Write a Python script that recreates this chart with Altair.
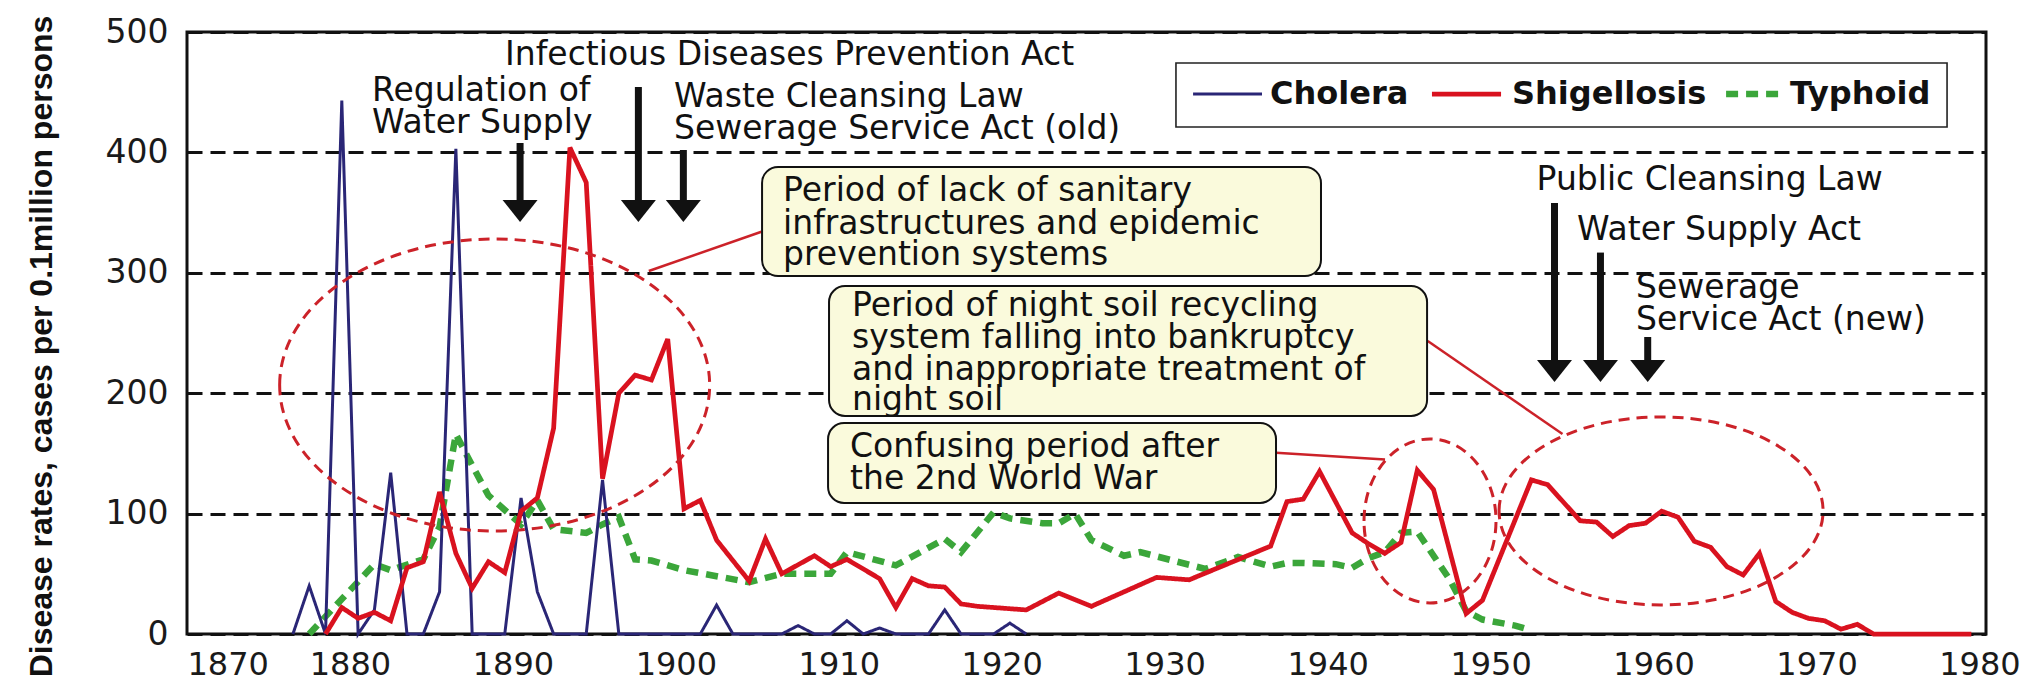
import altair as alt
import pandas as pd

# ---------------- data ----------------
cholera_years = [1876, 1877, 1878, 1879, 1880, 1881, 1882, 1883, 1884, 1885, 1886, 1887, 1888,
                 1889, 1890, 1891, 1892, 1893, 1894, 1895, 1896, 1901, 1902, 1903, 1906, 1907,
                 1908, 1909, 1910, 1911, 1912, 1913, 1915, 1916, 1917, 1919, 1920, 1921]
cholera_rates = [0, 40, 0, 443, 0, 20, 134, 0, 0, 35, 403, 0, 0,
                 0, 113, 35, 0, 0, 0, 128, 0, 0, 24, 0, 0, 7,
                 0, 0, 11, 0, 5, 0, 0, 20, 0, 0, 9, 0]

shig_years = [1878, 1879, 1880, 1881, 1882, 1883, 1884, 1885, 1886, 1887, 1888, 1889, 1890,
              1891, 1892, 1893, 1894, 1895, 1896, 1897, 1898, 1899, 1900, 1901, 1902, 1904,
              1905, 1906, 1908, 1909, 1910, 1912, 1913, 1914, 1915, 1916, 1917, 1918, 1921,
              1923, 1925, 1929, 1931, 1936, 1937, 1938, 1939, 1941, 1942, 1943, 1944, 1945,
              1946, 1948, 1949, 1952, 1953, 1955, 1956, 1957, 1958, 1959, 1960, 1961, 1962,
              1963, 1964, 1965, 1966, 1967, 1968, 1969, 1970, 1971, 1972, 1973, 1979]
shig_rates = [0, 22, 13, 18, 11, 55, 60, 118, 67, 38, 60, 51, 102,
              113, 171, 404, 375, 129, 200, 215, 211, 245, 104, 111, 78, 44,
              79, 50, 65, 56, 62, 46, 22, 46, 40, 39, 25, 23, 20,
              34, 23, 47, 45, 73, 110, 112, 135, 84, 75, 67, 76, 136,
              120, 17, 28, 128, 124, 94, 93, 81, 90, 92, 102, 97, 77,
              72, 56, 49, 67, 27, 18, 13, 11, 4, 8, 0, 0]

typhoid_years = [1877, 1881, 1882, 1884, 1885, 1886, 1887, 1888, 1890, 1891, 1892, 1894, 1895,
                 1896, 1897, 1898, 1900, 1902, 1904, 1906, 1909, 1910, 1913, 1916, 1917, 1919,
                 1920, 1922, 1923, 1924, 1925, 1927, 1928, 1930, 1932, 1934, 1936, 1937, 1938,
                 1940, 1941, 1942, 1943, 1944, 1945, 1946, 1947, 1948, 1949, 1951, 1952]
typhoid_rates = [0, 58, 53, 62, 89, 166, 140, 115, 91, 111, 87, 84, 91,
                 97, 62, 61, 53, 48, 43, 50, 50, 68, 57, 79, 68, 101,
                 96, 92, 92, 100, 78, 65, 68, 61, 54, 64, 56, 59, 59,
                 58, 55, 63, 68, 84, 85, 65, 45, 19, 12, 7, 3]

series_names = ["Cholera", "Shigellosis", "Typhoid"]
series_colors = ["#2a2676", "#d9121f", "#3ba63a"]

x_ticks = [1870, 1880, 1890, 1900, 1910, 1920, 1930, 1940, 1950, 1960, 1970, 1980]
y_ticks = [0, 100, 200, 300, 400, 500]

# law arrows: (year, top of shaft, tip)
arrow_year = [1890.44, 1897.70, 1900.46, 1953.92, 1956.74, 1959.64]
arrow_top = [407.8, 454.3, 402.0, 358.0, 316.8, 246.7]
arrow_tip = [342.2, 342.2, 342.2, 209.3, 209.3, 209.3]

# law labels (one row per text line)
law_text = ["Infectious Diseases Prevention Act", "Regulation of", "Water Supply",
            "Waste Cleansing Law", "Sewerage Service Act (old)", "Public Cleansing Law",
            "Water Supply Act", "Sewerage", "Service Act (new)"]
law_year = [1889.52, 1881.35, 1881.35, 1899.89, 1899.89, 1952.82, 1955.30, 1958.92, 1958.92]
law_val = [472.6, 442.3, 416.1, 437.7, 411.1, 368.8, 327.6, 279.1, 252.5]

# call-out boxes
box_x = [1905.29, 1909.40, 1909.34]
box_x2 = [1939.59, 1946.10, 1936.83]
box_top = [387.9, 289.0, 175.2]
box_bottom = [297.3, 181.1, 108.8]

box_text = ["Period of lack of sanitary", "infrastructures and epidemic", "prevention systems",
            "Period of night soil recycling", "system falling into bankruptcy",
            "and inappropriate treatment of", "night soil",
            "Confusing period after", "the 2nd World War"]
box_text_year = [1906.58, 1906.58, 1906.58, 1910.81, 1910.81, 1910.81, 1910.81, 1910.69, 1910.69]
box_text_val = [359.6, 332.2, 306.5, 264.1, 237.5, 211.0, 186.0, 147.0, 120.8]

# connector lines from boxes to circled periods
conn_x = [1905.25, 1936.83, 1946.14]
conn_x2 = [1898.34, 1943.52, 1954.41]
conn_y = [334.1, 150.5, 243.4]
conn_y2 = [301.5, 145.0, 166.1]

# circled periods: centre (year, rate), radii in px
ell_year = [1888.88, 1946.28, 1960.46]
ell_val = [206.8, 93.9, 102.2]
ell_rx = [215, 66, 162]
ell_ry = [146, 82, 94]

# ---------------- build ----------------
rows = []
for name, ys, vs in [("Typhoid", typhoid_years, typhoid_rates),
                     ("Cholera", cholera_years, cholera_rates),
                     ("Shigellosis", shig_years, shig_rates)]:
    for yv, rv in zip(ys, vs):
        rows.append({"series": name, "year": yv, "rate": rv})
df = pd.DataFrame(rows)

FONT = "DejaVu Sans"
ANN_RED = "#cc2229"

xscale = alt.Scale(domain=[1870, 1980.4], nice=False, zero=False)
yscale = alt.Scale(domain=[0, 500], nice=False)
color_scale = alt.Scale(domain=series_names, range=series_colors)
dash_scale = alt.Scale(domain=series_names, range=[[1, 0], [1, 0], [12, 8]])
width_scale = alt.Scale(domain=series_names, range=[3, 6.5, 3.2])

x_axis = alt.Axis(values=x_ticks, format="d", title=None, grid=False, ticks=False, tickSize=0,
                  domain=False, labelFont=FONT, labelFontSize=32, labelPadding=15,
                  labelColor="#1a1a1a")
y_axis = alt.Axis(values=y_ticks, title="Disease rates, cases per 0.1million persons",
                  grid=True, gridDash=[15, 8], gridColor="#111111", gridWidth=2.8,
                  ticks=False, tickSize=0, domain=False, labelFont=FONT, labelFontSize=33,
                  labelPadding=19, labelColor="#1a1a1a",
                  titleFont="Liberation Sans", titleFontWeight="bold", titleFontSize=32,
                  titleColor="#111111",
                  titleX=-146, titleY=314, titleAngle=270, titleAlign="center",
                  titleBaseline="middle")


def X(f):
    return alt.X(f"{f}:Q", scale=xscale, axis=x_axis)


def Y(f):
    return alt.Y(f"{f}:Q", scale=yscale, axis=y_axis)


lines = alt.Chart(df).transform_calculate(t="datum.year + 0.5").mark_line(
    strokeJoin="miter", strokeMiterLimit=4
).encode(
    x=X("t"),
    y=Y("rate"),
    color=alt.Color("series:N", scale=color_scale, legend=None),
    strokeDash=alt.StrokeDash("series:N", scale=dash_scale, legend=None),
    strokeWidth=alt.StrokeWidth("series:N", scale=width_scale, legend=None),
    detail="series:N",
)

ellipses = []
for cx, cy, rx, ry in zip(ell_year, ell_val, ell_rx, ell_ry):
    r = ry / rx
    path = f"M-1,0A1,{r:.4f} 0 1,1 1,0A1,{r:.4f} 0 1,1 -1,0Z"
    ellipses.append(
        alt.Chart(pd.DataFrame({"x": [cx], "v": [cy]})).mark_point(
            shape=path, size=(2 * rx) ** 2, filled=False, stroke=ANN_RED,
            strokeWidth=3, strokeDash=[11, 7], opacity=1
        ).encode(x=X("x"), y=Y("v"))
    )

conn_df = pd.DataFrame({"x": conn_x, "x2": conn_x2, "y": conn_y, "y2": conn_y2})
connectors = alt.Chart(conn_df).mark_rule(color=ANN_RED, strokeWidth=2.5).encode(
    x=X("x"), x2="x2:Q", y=Y("y"), y2="y2:Q")

box_df = pd.DataFrame({"x": box_x, "x2": box_x2, "y": box_top, "y2": box_bottom})
boxes = alt.Chart(box_df).mark_rect(
    cornerRadius=16, fill="#fafadc", stroke="#111111", strokeWidth=2
).encode(x=X("x"), x2="x2:Q", y=Y("y"), y2="y2:Q")

box_txt_df = pd.DataFrame({"x": box_text_year, "v": box_text_val, "t": box_text})
box_texts = alt.Chart(box_txt_df).mark_text(
    align="left", baseline="alphabetic", font=FONT, fontSize=33, color="#111111"
).encode(x=X("x"), y=Y("v"), text="t:N")

arrow_df = pd.DataFrame({"x": arrow_year, "top": arrow_top, "tip": arrow_tip})
shafts = alt.Chart(arrow_df).transform_calculate(base="datum.tip + 14").mark_rule(
    color="#111111", strokeWidth=7
).encode(x=X("x"), y=Y("top"), y2="base:Q")
heads = alt.Chart(arrow_df).mark_point(
    shape="M-1,-1.26L1,-1.26L0,0Z", size=1225, filled=True, color="#111111", opacity=1
).encode(x=X("x"), y=Y("tip"))

law_df = pd.DataFrame({"x": law_year, "v": law_val, "t": law_text})
law_texts = alt.Chart(law_df).mark_text(
    align="left", baseline="alphabetic", font=FONT, fontSize=33, color="#111111"
).encode(x=X("x"), y=Y("v"), text="t:N")

# legend (drawn as a framed key in the upper right)
leg_box = alt.Chart(pd.DataFrame({"x": [1930.69], "x2": [1978.01], "y": [474.3], "y2": [421.1]})
                    ).mark_rect(fill="white", stroke="#222222", strokeWidth=1.6).encode(
    x=X("x"), x2="x2:Q", y=Y("y"), y2="y2:Q")
leg_df = pd.DataFrame({
    "series": series_names,
    "x": [1931.74, 1946.40, 1964.45],
    "x2": [1935.97, 1950.64, 1967.95],
    "tx": [1936.46, 1951.31, 1968.37],
    "v": [448.5, 448.5, 448.5],
})
leg_lines = alt.Chart(leg_df).mark_rule().encode(
    x=X("x"), x2="x2:Q", y=Y("v"),
    color=alt.Color("series:N", scale=color_scale, legend=None),
    strokeDash=alt.StrokeDash("series:N", scale=dash_scale, legend=None),
    strokeWidth=alt.StrokeWidth("series:N", scale=width_scale, legend=None),
)
leg_text = alt.Chart(leg_df).mark_text(
    align="left", baseline="middle", font=FONT, fontSize=32, fontWeight="bold", color="#111111"
).encode(x=X("tx"), y=Y("v"), text="series:N")

chart = alt.layer(
    lines, *ellipses, connectors, boxes, box_texts, shafts, heads, law_texts,
    leg_box, leg_lines, leg_text
).properties(
    width=1799, height=602,
    padding={"left": 179, "top": 24, "right": 40, "bottom": 52},
    autosize=alt.AutoSizeParams(type="none"),
    background="white",
).configure_view(stroke="#111111", strokeWidth=3)

chart.save("out.html", embed_options={"renderer": "svg", "actions": False})
